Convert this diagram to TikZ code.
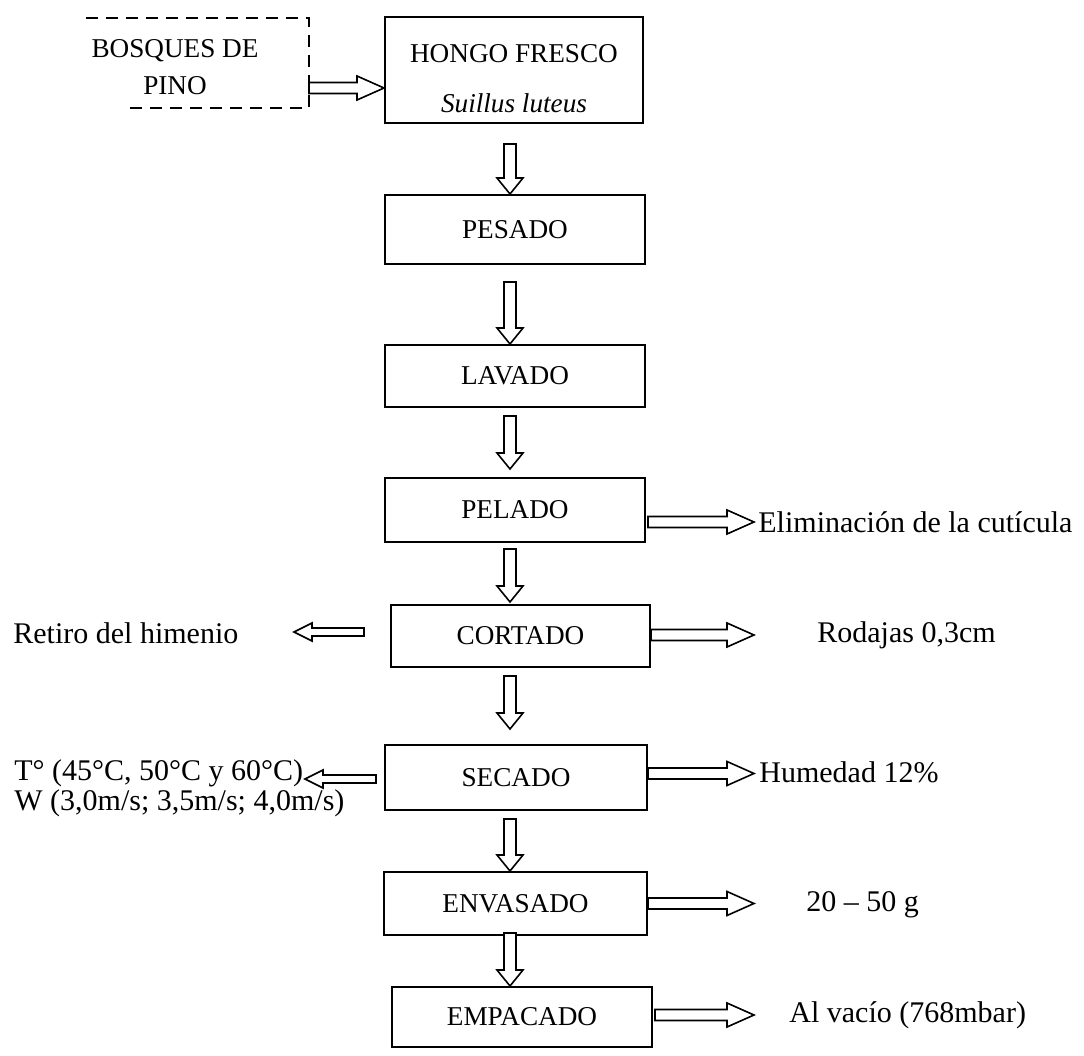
\documentclass[tikz,border=0pt]{standalone}
\usepackage{fontspec}
\setmainfont{Liberation Serif}
\usetikzlibrary{calc}
\tikzset{
  procbox/.style={draw, line width=1pt, inner sep=0pt, font=\fontsize{13.6}{16}\selectfont},
  sidetext/.style={inner sep=0pt, anchor=west, font=\fontsize{15}{15}\selectfont},
  flowarrow/.style={draw, line width=0.8pt, fill=white, line join=miter},
  frameline/.style={line width=0.8pt, dash pattern=on 6pt off 4pt}
}
\newcommand{\flowdown}[2]{\draw[flowarrow] let \p1=(#1), \p2=(#2) in
  (\x1-3pt,\y1) -- (\x1-3pt,\y2+8pt) -- (\x1-6.5pt,\y2+8pt) -- (\x1,\y2) --
  (\x1+6.5pt,\y2+8pt) -- (\x1+3pt,\y2+8pt) -- (\x1+3pt,\y1) -- cycle;}
\newcommand{\flowright}[2]{\draw[flowarrow] let \p1=(#1), \p2=(#2) in
  (\x1,\y1-2.75pt) -- (\x2-13.5pt,\y1-2.75pt) -- (\x2-13.5pt,\y1-6pt) -- (\x2,\y1) --
  (\x2-13.5pt,\y1+6pt) -- (\x2-13.5pt,\y1+2.75pt) -- (\x1,\y1+2.75pt) -- cycle;}
\newcommand{\flowleft}[2]{\draw[flowarrow] let \p1=(#1), \p2=(#2) in
  (\x1,\y1-2pt) -- (\x2+9pt,\y1-2pt) -- (\x2+9pt,\y1-4.5pt) -- (\x2,\y1) --
  (\x2+9pt,\y1+4.5pt) -- (\x2+9pt,\y1+2pt) -- (\x1,\y1+2pt) -- cycle;}
\begin{document}
\begin{tikzpicture}[x=0.5pt, y=-0.5pt]
\useasboundingbox (0,0) rectangle (1084,1056);

% reference coordinates
\coordinate (axis) at (510,0);
\coordinate (tipR) at (754,0);
\coordinate (tipL1) at (294,0);
\coordinate (tipL2) at (305,0);
\coordinate (bosqout) at (309,88);

% source
\node[align=center, inner sep=0pt, font=\fontsize{13.6}{18.5}\selectfont] (bosques) at (175,67.5) {BOSQUES DE\\PINO};
\draw[frameline] (86,18) -- (309,18) -- (309,108) -- (127,108);

% process boxes
\node[procbox, minimum width=129pt, minimum height=53pt, align=center,
      font=\fontsize{13.6}{25}\selectfont] (hongo) at (514,70)
      {\rule{0pt}{17.5pt}HONGO FRESCO\\\textit{Suillus luteus}};
\node[procbox, minimum width=130pt, minimum height=34.5pt] (pesado) at (515,229.5) {PESADO};
\node[procbox, minimum width=130pt, minimum height=31pt] (lavado) at (515,376) {LAVADO};
\node[procbox, minimum width=130pt, minimum height=32pt] (pelado) at (515,510) {PELADO};
\node[procbox, minimum width=129.5pt, minimum height=31pt] (cortado) at (520.5,636) {CORTADO};
\node[procbox, minimum width=131pt, minimum height=32.5pt] (secado) at (516,777.5) {SECADO};
\node[procbox, minimum width=131.5pt, minimum height=31.5pt] (envasado) at (515.5,903.5) {ENVASADO};
\node[procbox, minimum width=130pt, minimum height=30pt] (empacado) at (522,1017) {EMPACADO};

% side texts
\node[sidetext] (elim) at (758,522) {Eliminación de la cutícula};
\node[sidetext] (rodajas) at (817,635) {Rodajas 0,3cm};
\node[sidetext] (humedad) at (759,772) {Humedad 12\%};
\node[sidetext] (gramos) at (806,905) {20 – 50 g};
\node[sidetext] (vacio) at (789,1015) {Al vacío (768mbar)};
\node[sidetext] (retiro) at (13,633) {Retiro del himenio};
\node[sidetext, align=left] (cond) at (14,788) {T° (45°C, 50°C y 60°C)\\W (3,0m/s; 3,5m/s; 4,0m/s)};

% main flow
\flowright{bosqout}{hongo.west}
\flowdown{$(hongo.south -| axis)+(0,-10pt)$}{pesado.north}
\flowdown{$(pesado.south -| axis)+(0,-8.5pt)$}{lavado.north}
\flowdown{$(lavado.south -| axis)+(0,-4pt)$}{$(pelado.north)+(0,4pt)$}
\flowdown{$(pelado.south -| axis)+(0,-3pt)$}{$(cortado.north)+(0,1pt)$}
\flowdown{$(cortado.south -| axis)+(0,-4pt)$}{$(secado.north)+(0,7.5pt)$}
\flowdown{$(secado.south -| axis)+(0,-4pt)$}{envasado.north}
\flowdown{$(envasado.south -| axis)+(0,1.5pt)$}{empacado.north}

% side arrows
\flowright{$(pelado.east)+(1pt,-6pt)$}{tipR}
\flowright{$(cortado.east)+(0,0.5pt)$}{tipR}
\flowright{$(secado.east)+(0,2pt)$}{tipR}
\flowright{envasado.east}{tipR}
\flowright{$(empacado.east)+(1pt,1pt)$}{tipR}
\flowleft{$(cortado.west)+(-13pt,2pt)$}{tipL1}
\flowleft{$(secado.west)+(-4pt,-0.75pt)$}{tipL2}
\end{tikzpicture}
\end{document}
